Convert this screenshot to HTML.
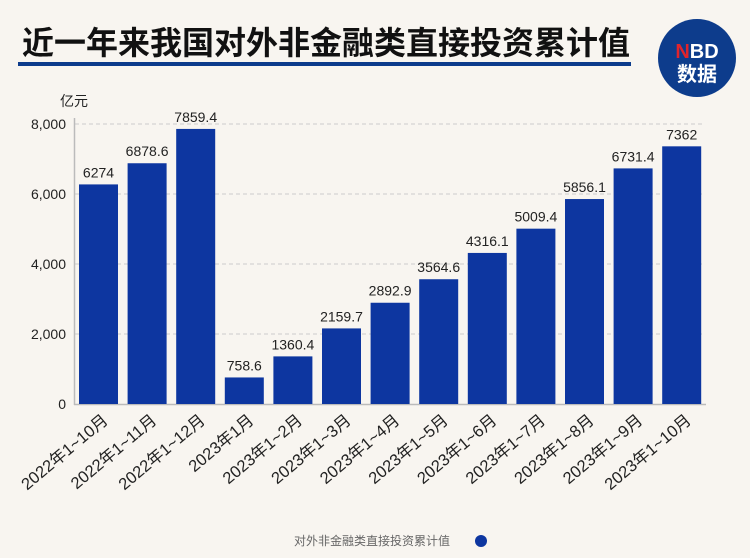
<!DOCTYPE html>
<html><head><meta charset="utf-8"><style>
body{margin:0;background:#f8f5f0;}
svg{display:block;font-family:"Liberation Sans","Noto Sans CJK SC",sans-serif;}
</style></head><body>
<svg width="750" height="558" xmlns="http://www.w3.org/2000/svg">
<rect width="750" height="558" fill="#f8f5f0"/>
<text x="22" y="54" font-size="32" font-weight="bold" fill="#111" font-family="'Liberation Sans','Noto Sans CJK SC',sans-serif">近一年来我国对外非金融类直接投资累计值</text>
<rect x="18" y="62" width="613" height="4" fill="#0d3c8c"/>
<circle cx="697" cy="58" r="39" fill="#0d3c8c"/>
<text x="697" y="58" font-size="20" font-weight="bold" fill="#fff" text-anchor="middle"><tspan fill="#e0242c">N</tspan>BD</text>
<text x="697" y="81" font-size="20" font-weight="bold" fill="#fff" text-anchor="middle">数据</text>
<text x="60" y="106" font-size="14" fill="#222">亿元</text>
<g stroke="#ccc" stroke-dasharray="4,3" stroke-width="1">
<line x1="75" y1="124" x2="705" y2="124"/>
<line x1="75" y1="194" x2="705" y2="194"/>
<line x1="75" y1="264" x2="705" y2="264"/>
<line x1="75" y1="334" x2="705" y2="334"/>
</g>
<g font-size="14" fill="#222" text-anchor="end">
<text x="66" y="129">8,000</text>
<text x="66" y="199">6,000</text>
<text x="66" y="269">4,000</text>
<text x="66" y="339">2,000</text>
<text x="66" y="409">0</text>
</g>
<line x1="74.5" y1="118" x2="74.5" y2="405" stroke="#bbb" stroke-width="1.5"/>
<line x1="74" y1="404.5" x2="706" y2="404.5" stroke="#bbb" stroke-width="1.5"/>
<g fill="#0d36a0" id="bars"></g>
<g font-size="14" fill="#222" text-anchor="middle" id="vals"></g>
<g font-size="16.5" fill="#222" text-anchor="end" id="labs"></g>
<text x="372" y="545" font-size="12" fill="#666" text-anchor="middle">对外非金融类直接投资累计值</text>
<circle cx="481" cy="541" r="6" fill="#0d36a0"/>
<script>
var v=[6274,6878.6,7859.4,758.6,1360.4,2159.7,2892.9,3564.6,4316.1,5009.4,5856.1,6731.4,7362];
var s=["6274","6878.6","7859.4","758.6","1360.4","2159.7","2892.9","3564.6","4316.1","5009.4","5856.1","6731.4","7362"];
var l=["2022年1~10月","2022年1~11月","2022年1~12月","2023年1月","2023年1~2月","2023年1~3月","2023年1~4月","2023年1~5月","2023年1~6月","2023年1~7月","2023年1~8月","2023年1~9月","2023年1~10月"];
var ns="http://www.w3.org/2000/svg",b=document.getElementById("bars"),t=document.getElementById("vals"),L=document.getElementById("labs");
for(var i=0;i<13;i++){var x=79+i*48.6,h=v[i]*0.035,y=404-h;
var r=document.createElementNS(ns,"rect");r.setAttribute("x",x);r.setAttribute("y",y);r.setAttribute("width",39);r.setAttribute("height",h);b.appendChild(r);
var tx=document.createElementNS(ns,"text");tx.setAttribute("x",x+19.5);tx.setAttribute("y",y-7);tx.textContent=s[i];t.appendChild(tx);
var lb=document.createElementNS(ns,"text");var cx=x+30,cy=422;lb.setAttribute("x",cx);lb.setAttribute("y",cy);lb.setAttribute("transform","rotate(-40 "+cx+" "+cy+")");lb.textContent=l[i];L.appendChild(lb);}
</script>
</svg>
</body></html>
